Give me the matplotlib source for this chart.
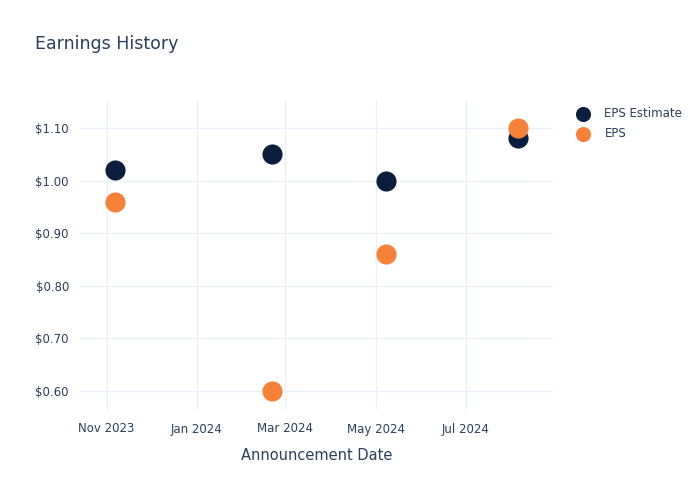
import datetime as dt

import matplotlib
matplotlib.use("Agg")
import matplotlib.pyplot as plt
import matplotlib.dates as mdates
from matplotlib.ticker import FuncFormatter

dates = [dt.date(2023, 11, 7), dt.date(2024, 2, 21), dt.date(2024, 5, 8), dt.date(2024, 8, 5)]
eps_estimate = [1.02, 1.05, 1.00, 1.08]
eps_actual = [0.96, 0.60, 0.86, 1.10]

TEXT = "#2a3f5f"
NAVY = "#0c1e3e"
ORANGE = "#f6823a"

fig = plt.figure(figsize=(7, 5), dpi=100)
ax = fig.add_axes([80 / 700, 90 / 500, 473 / 700, 310 / 500])

ax.scatter(dates, eps_estimate, s=210, color=NAVY, label="EPS Estimate", zorder=3, linewidths=0)
ax.scatter(dates, eps_actual, s=210, color=ORANGE, label="EPS", zorder=4, linewidths=0)

ax.set_xlim(dt.date(2023, 10, 14), dt.date(2024, 8, 29))
ax.set_ylim(0.564, 1.153)
ax.xaxis.set_major_locator(mdates.MonthLocator(bymonth=[1, 3, 5, 7, 9, 11]))
ax.xaxis.set_major_formatter(mdates.DateFormatter("%b %Y"))
ax.set_yticks([0.6, 0.7, 0.8, 0.9, 1.0, 1.1])
ax.yaxis.set_major_formatter(FuncFormatter(lambda v, p: f"${v:.2f}"))

for s in ax.spines.values():
    s.set_visible(False)
ax.grid(True, color="#ebf0f8", linewidth=1)
ax.set_axisbelow(True)
ax.tick_params(length=0, colors=TEXT, labelsize=8.5)
ax.tick_params(axis="x", pad=9)
ax.tick_params(axis="y", pad=8)

ax.set_xlabel("Announcement Date", color=TEXT, fontsize=10.5, labelpad=9)
fig.text(35 / 700, 1 - 44 / 500, "Earnings History", color=TEXT, fontsize=12.5, va="center")

leg = ax.legend(loc="upper left", bbox_to_anchor=(1.029, 0.992), frameon=False,
                fontsize=8.5, labelcolor=TEXT, handletextpad=0.8, borderaxespad=0,
                labelspacing=0.6, markerscale=0.75)

fig.savefig("out.png", dpi=100)
